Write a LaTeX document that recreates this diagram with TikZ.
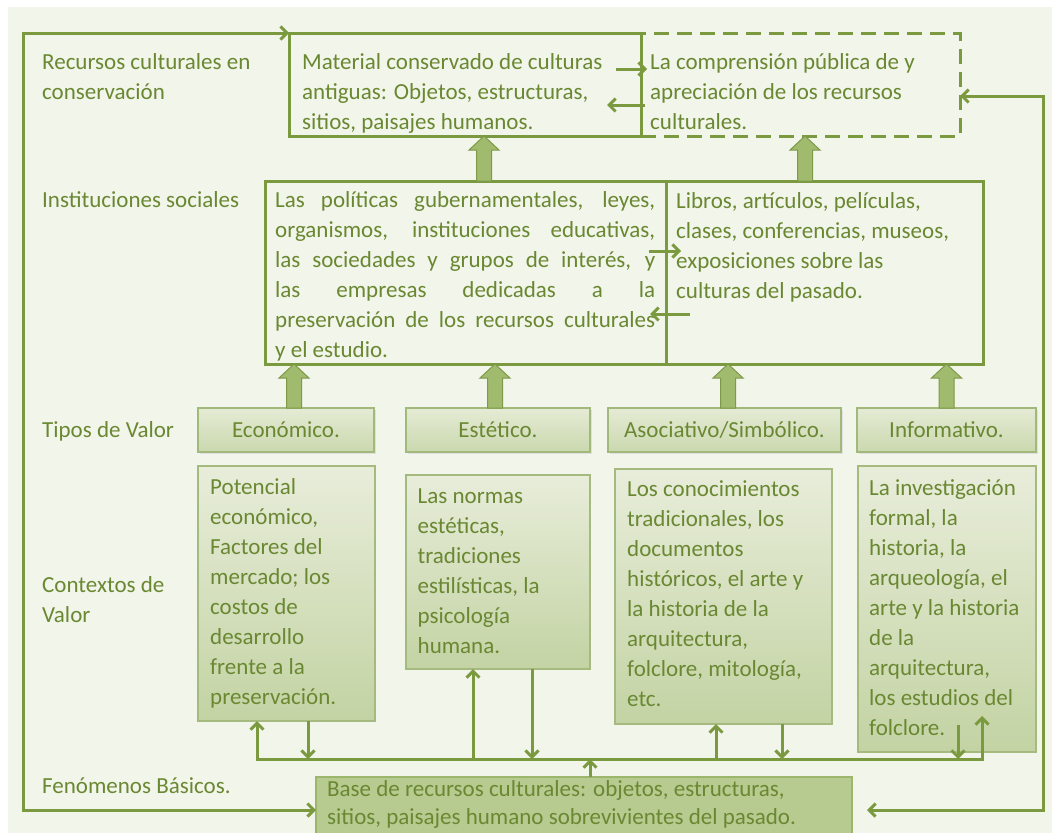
\documentclass[tikz,border=0pt]{standalone}
\usepackage{fontspec}
\setmainfont{Carlito}
\usetikzlibrary{arrows.meta,calc}
\definecolor{bgc}{HTML}{F2F5EA}
\definecolor{ol}{HTML}{7B9A40}
\definecolor{txc}{HTML}{6A8832}
\definecolor{tipot}{HTML}{E5EBD5}
\definecolor{tipobot}{HTML}{CAD8AE}
\definecolor{tipob}{HTML}{A3B97C}
\definecolor{ctxt}{HTML}{E8EDDA}
\definecolor{ctxb}{HTML}{C3D3A3}
\definecolor{ctxd}{HTML}{A6BA80}
\definecolor{basef}{HTML}{B7CA90}
\definecolor{based}{HTML}{9CB66C}
\definecolor{arrf}{HTML}{A0BA6E}
\definecolor{arrd}{HTML}{7E9A48}
\newcommand\fsz{\fontsize{23}{30}\selectfont}
\begin{document}
\begin{tikzpicture}[x=1pt,y=-1pt,
  sb/.tip={Straight Barb[length=6.5pt,width=13pt]},
  box/.style={draw=ol, line width=3pt, inner sep=0pt, outer sep=0pt, anchor=north west},
  tipo/.style={draw=tipob, line width=1.2pt, top color=tipot, bottom color=tipobot, inner sep=0pt, outer sep=0pt, anchor=north west, text=txc, font=\fsz, minimum height=44pt},
  ctx/.style={draw=ctxd, line width=1.2pt, top color=ctxt, bottom color=ctxb, inner sep=0pt, outer sep=0pt, anchor=north west},
  txt/.style={text=txc, font=\fsz, inner sep=0pt, anchor=north west, align=left},
  conn/.style={draw=ol, line width=3pt},
  shadowbox/.style={fill=black!12, draw=none, inner sep=0pt, outer sep=0pt, anchor=north west},
  blockarr/.style={fill=arrf, draw=arrd, line width=1pt,
    to path={let \p1=(\tikztostart), \p2=(\tikztotarget) in
      (\x1-7.5pt,\y1) -- (\x1-7.5pt,\y2-14pt) -- (\x1-15pt,\y2-14pt) -- (\x1,\y2)
      -- (\x1+15pt,\y2-14pt) -- (\x1+7.5pt,\y2-14pt) -- (\x1+7.5pt,\y1) -- cycle}}
]
\useasboundingbox (0,0) rectangle (1058,833);
\fill[white] (0,0) rectangle (1058,833);
\fill[bgc] (8,7) rectangle (1052,833);

% left labels
\node[txt] (l1) at (42,48.5) {\strut Recursos culturales en\\conservación};
\node[txt] (l2) at (42,186) {\strut Instituciones sociales};
\node[txt] (l3) at (42,416) {\strut Tipos de Valor};
\node[txt] (l4) at (42,571) {\strut Contextos de\\Valor};
\node[txt] (l5) at (42,772) {\strut Fenómenos Básicos.};

% top boxes
\node[box, dash pattern=on 15pt off 8pt, minimum width=319pt, minimum height=103pt] (dsh) at (641,33) {};
\node[box, minimum width=352pt, minimum height=103pt] (mat) at (289,33) {};
\node[txt] (matT) at ($(mat.north west)+(13,15)$) {\strut Material conservado de culturas\\antiguas: Objetos, estructuras,\\sitios, paisajes humanos.};
\node[txt] (dshT) at ($(dsh.north west)+(9,15)$) {\strut La comprensión pública de y\\apreciación de los recursos\\culturales.};

% institutions
\node[box, minimum width=401pt, minimum height=183pt] (instL) at (265,181) {};
\node[box, minimum width=317pt, minimum height=183pt] (instR) at (666,181) {};
\node[txt] (instLT) at ($(instL.north west)+(10,5)$) {\strut\makebox[380pt][s]{Las políticas gubernamentales, leyes,}\\
\makebox[380pt][s]{organismos, instituciones educativas,}\\
\makebox[380pt][s]{las sociedades y grupos de interés, y}\\
\makebox[380pt][s]{las empresas dedicadas a la}\\
\makebox[380pt][s]{preservación de los recursos culturales}\\
y el estudio.};
\node[txt] (instRT) at ($(instR.north west)+(10,6)$) {\strut Libros, artículos, películas,\\clases, conferencias, museos,\\exposiciones sobre las\\culturas del pasado.};

% tipos (with faint shadows)
\node[shadowbox, minimum width=176pt, minimum height=44pt] at (200,410) {};
\node[shadowbox, minimum width=184pt, minimum height=44pt] at (408,410) {};
\node[shadowbox, minimum width=233pt, minimum height=44pt] at (610,410) {};
\node[shadowbox, minimum width=179pt, minimum height=44pt] at (859,410) {};
\node[tipo, minimum width=176pt] (tEco) at (198,408) {Económico.};
\node[tipo, minimum width=184pt] (tEst) at (406,408) {Estético.};
\node[tipo, minimum width=233pt] (tAso) at (608,408) {Asociativo/Simbólico.};
\node[tipo, minimum width=179pt] (tInf) at (857,408) {Informativo.};

% contexts
\node[ctx, minimum width=177pt, minimum height=255pt] (cEco) at (198,466) {};
\node[ctx, minimum width=184pt, minimum height=194pt] (cEst) at (406,475) {};
\node[ctx, minimum width=217pt, minimum height=255pt] (cAso) at (615,469) {};
\node[ctx, minimum width=178pt, minimum height=286pt] (cInf) at (858,466) {};
\node[txt] (cEcoT) at ($(cEco.north west)+(12,7)$) {\strut Potencial\\económico,\\Factores del\\mercado; los\\costos de\\desarrollo\\frente a la\\preservación.};
\node[txt] (cEstT) at ($(cEst.north west)+(11.5,7)$) {\strut Las normas\\estéticas,\\tradiciones\\estilísticas, la\\psicología\\humana.};
\node[txt] (cAsoT) at ($(cAso.north west)+(12,6.5)$) {\strut Los conocimientos\\tradicionales, los\\documentos\\históricos, el arte y\\la historia de la\\arquitectura,\\folclore, mitología,\\etc.};
\node[txt] (cInfT) at ($(cInf.north west)+(11,8)$) {\strut La investigación\\formal, la\\historia, la\\arqueología, el\\arte y la historia\\de la\\arquitectura,\\los estudios del\\folclore.};

% base
\node[box, draw=based, line width=1.2pt, fill=basef, minimum width=536pt, minimum height=66pt] (base) at (316,777) {};
\node[txt, font=\fontsize{23}{28}\selectfont] (baseT) at ($(base.north west)+(11,0)$) {\strut Base de recursos culturales: objetos, estructuras,\\sitios, paisajes humano sobrevivientes del pasado.};

% block arrows
\coordinate (m1) at ($(mat.south)+(19,0)$);
\coordinate (m2) at ($(dsh.south)+(4.5,0)$);
\draw[blockarr] (m1 |- instL.north) to (m1);
\draw[blockarr] (m2 |- instR.north) to (m2);
\coordinate (a1) at ($(tEco.north)+(8,0)$);
\coordinate (a2) at ($(tEst.north)+(-3,0)$);
\coordinate (a3) at ($(tAso.north)+(3.5,0)$);
\coordinate (a4) at ($(tInf.north)+(0,0)$);
\draw[blockarr] (a1) to (a1 |- instL.south);
\draw[blockarr] (a2) to (a2 |- instL.south);
\draw[blockarr] (a3) to (a3 |- instR.south);
\draw[blockarr] (a4) to (a4 |- instR.south);

% small arrows between top boxes
\coordinate (s1) at ($(mat.east)+(-25,-15.5)$);
\coordinate (s2) at ($(mat.east)+(4,20.5)$);
\draw[conn,-sb] (s1) -- ++(31,0);
\draw[conn,-sb] (s2) -- ++(-38,0);
\coordinate (s3) at ($(instL.east)+(-17,-21.5)$);
\coordinate (s4) at ($(instL.east)+(24,41.5)$);
\draw[conn,-sb] (s3) -- ++(32,0);
\draw[conn,-sb] (s4) -- ++(-40,0);

% outer frame
\coordinate (ftl) at (23,33);
\draw[conn,sb-sb] (mat.north west) -- (ftl) -- (ftl |- base.west) -- (base.west);
\coordinate (rTop) at ($(dsh.east)+(0,11.5)$);
\coordinate (frx) at (1043,0);
\coordinate (rEnd) at (867,810);
\draw[conn,sb-sb] (rTop) -- (rTop -| frx) -- (frx |- rEnd) -- (rEnd);

% bus
\coordinate (busL) at (257,759);
\coordinate (busR) at (982,759);
\coordinate (iu) at (982,716);
\coordinate (id) at (958,725);
\draw[conn,sb-sb] (cEco.south -| busL) -- (busL) -- (busR) -- (iu);
\coordinate (e1) at ($(cEco.south)+(21.5,0)$);
\coordinate (e2) at ($(cEst.south)+(-25,0)$);
\coordinate (e3) at ($(cEst.south)+(34,0)$);
\coordinate (e4) at ($(base.north)+(6,0)$);
\coordinate (e5) at ($(cAso.south)+(-7.5,0)$);
\coordinate (e6) at ($(cAso.south)+(58.5,0)$);
\draw[conn,-sb] (e1) -- (e1 |- busL);
\draw[conn,sb-] (e2) -- (e2 |- busL);
\draw[conn,-sb] (e3) -- (e3 |- busL);
\draw[conn,-sb] (e4) -- (e4 |- busL);
\draw[conn,sb-] (e5) -- (e5 |- busL);
\draw[conn,-sb] (e6) -- (e6 |- busL);
\draw[conn,-sb] (id) -- (id |- busL);
\end{tikzpicture}
\end{document}
